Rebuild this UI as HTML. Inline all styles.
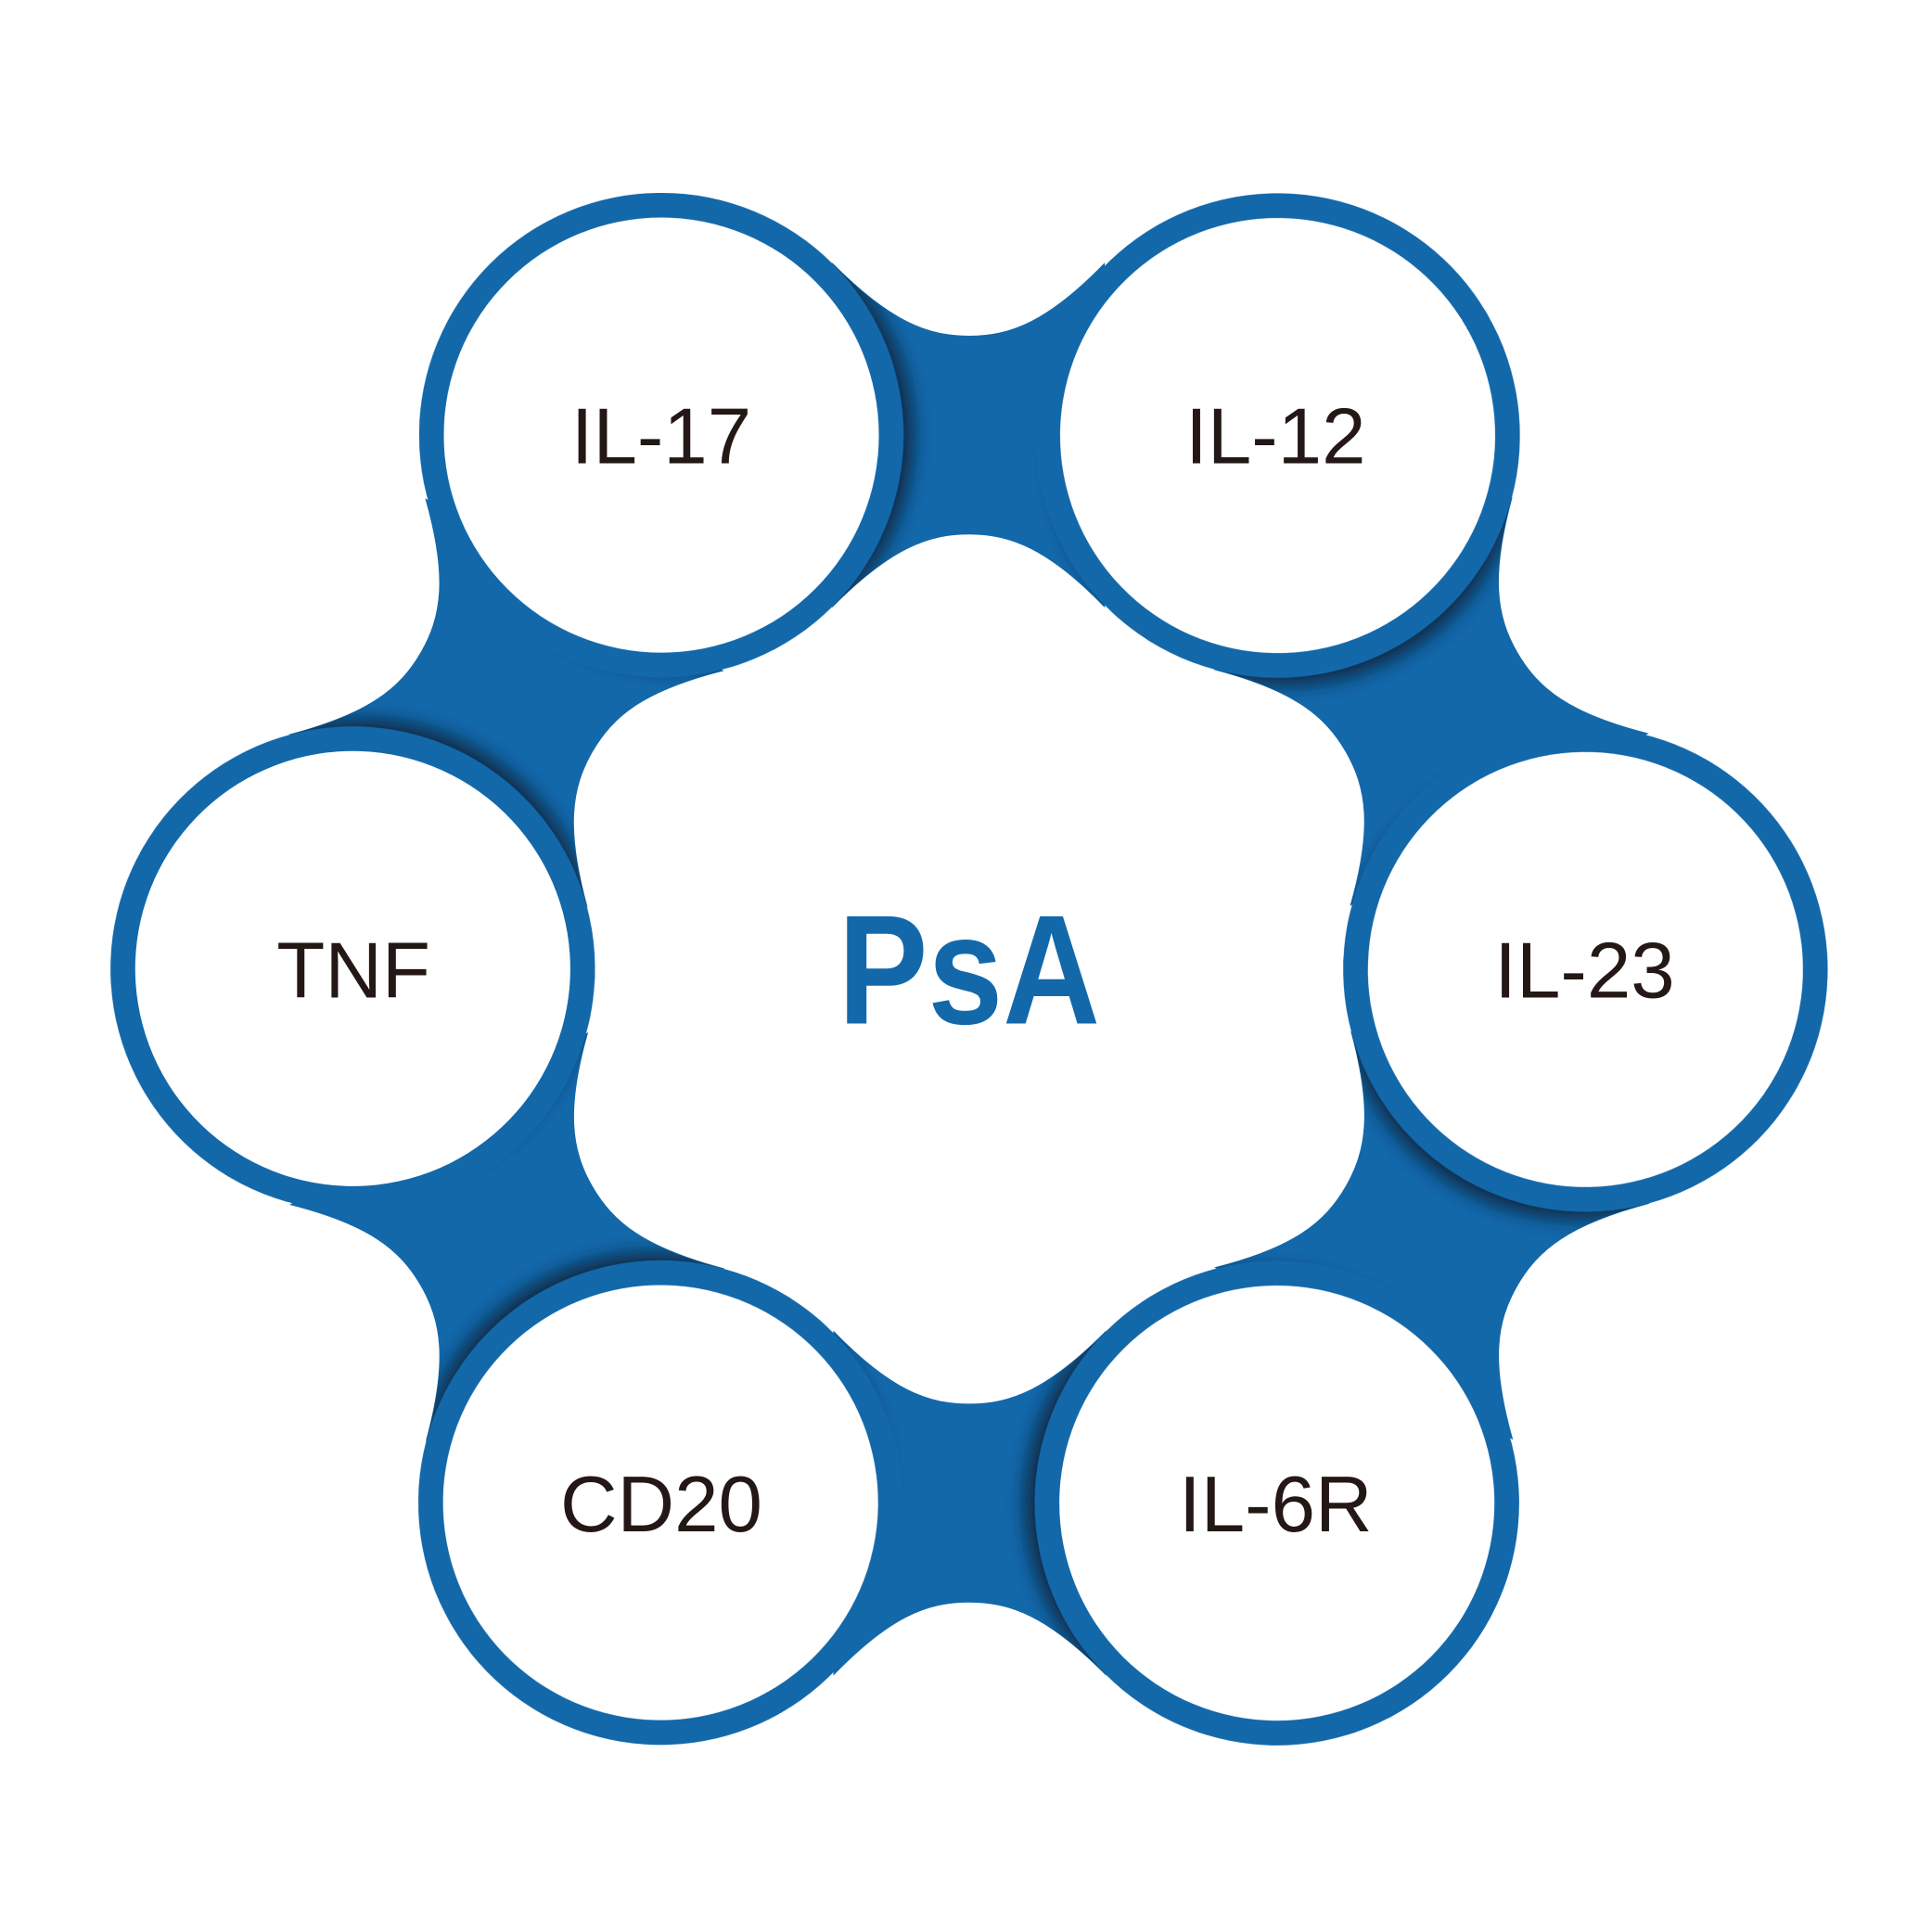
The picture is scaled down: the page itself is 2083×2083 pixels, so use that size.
<!DOCTYPE html>
<html><head><meta charset="utf-8"><style>html,body{margin:0;padding:0;background:#fff}svg{display:block}</style></head>
<body>
<svg width="2083" height="2083" viewBox="0 0 1563 1563" xmlns="http://www.w3.org/2000/svg">
<defs>
<path id="br" d="M673.6,213.4 C720,260 750,272 784,272 C818,272 848,260 893.4,213.4 L893.4,490.6 C848,444 818,432 784,432 C750,432 720,444 673.6,490.6 Z"/>
<clipPath id="clipB">
<use href="#br"/>
<use href="#br" transform="rotate(60 784 784)"/>
<use href="#br" transform="rotate(120 784 784)"/>
<use href="#br" transform="rotate(180 784 784)"/>
<use href="#br" transform="rotate(240 784 784)"/>
<use href="#br" transform="rotate(300 784 784)"/>
</clipPath>
<filter id="bl" x="-20%" y="-20%" width="140%" height="140%"><feGaussianBlur stdDeviation="7"/></filter>
</defs>
<g fill="#1368aa" stroke="#1368aa" stroke-width="0.8">
<use href="#br"/>
<use href="#br" transform="rotate(60 784 784)"/>
<use href="#br" transform="rotate(120 784 784)"/>
<use href="#br" transform="rotate(180 784 784)"/>
<use href="#br" transform="rotate(240 784 784)"/>
<use href="#br" transform="rotate(300 784 784)"/>
</g>
<g clip-path="url(#clipB)">
<g filter="url(#bl)" fill="#0d2238" opacity="0.85">
<circle cx="549" cy="352" r="190"/>
<circle cx="549" cy="352" r="190" transform="rotate(60 784 784)"/>
<circle cx="549" cy="352" r="190" transform="rotate(120 784 784)"/>
<circle cx="549" cy="352" r="190" transform="rotate(180 784 784)"/>
<circle cx="549" cy="352" r="190" transform="rotate(240 784 784)"/>
<circle cx="549" cy="352" r="190" transform="rotate(300 784 784)"/>
</g>
</g>
<g fill="#1368aa">
<circle cx="535" cy="352" r="196"/>
<circle cx="535" cy="352" r="196" transform="rotate(60 784 784)"/>
<circle cx="535" cy="352" r="196" transform="rotate(120 784 784)"/>
<circle cx="535" cy="352" r="196" transform="rotate(180 784 784)"/>
<circle cx="535" cy="352" r="196" transform="rotate(240 784 784)"/>
<circle cx="535" cy="352" r="196" transform="rotate(300 784 784)"/>
</g>
<g fill="#fff">
<circle cx="535" cy="352" r="176"/>
<circle cx="535" cy="352" r="176" transform="rotate(60 784 784)"/>
<circle cx="535" cy="352" r="176" transform="rotate(120 784 784)"/>
<circle cx="535" cy="352" r="176" transform="rotate(180 784 784)"/>
<circle cx="535" cy="352" r="176" transform="rotate(240 784 784)"/>
<circle cx="535" cy="352" r="176" transform="rotate(300 784 784)"/>
</g>
<g font-family="Liberation Sans, sans-serif" font-size="64" fill="#231815" text-anchor="middle" font-weight="300">
<text x="535" y="375">IL-17</text>
<text x="1032" y="375">IL-12</text>
<text x="1282" y="807">IL-23</text>
<text x="1032" y="1239">IL-6R</text>
<text x="535" y="1239">CD20</text>
<text x="286" y="807">TNF</text>
</g>
<text x="784" y="828" font-family="Liberation Sans, sans-serif" font-size="126" font-weight="bold" fill="#1368aa" text-anchor="middle" textLength="212" lengthAdjust="spacingAndGlyphs">PsA</text>
</svg>
</body></html>
